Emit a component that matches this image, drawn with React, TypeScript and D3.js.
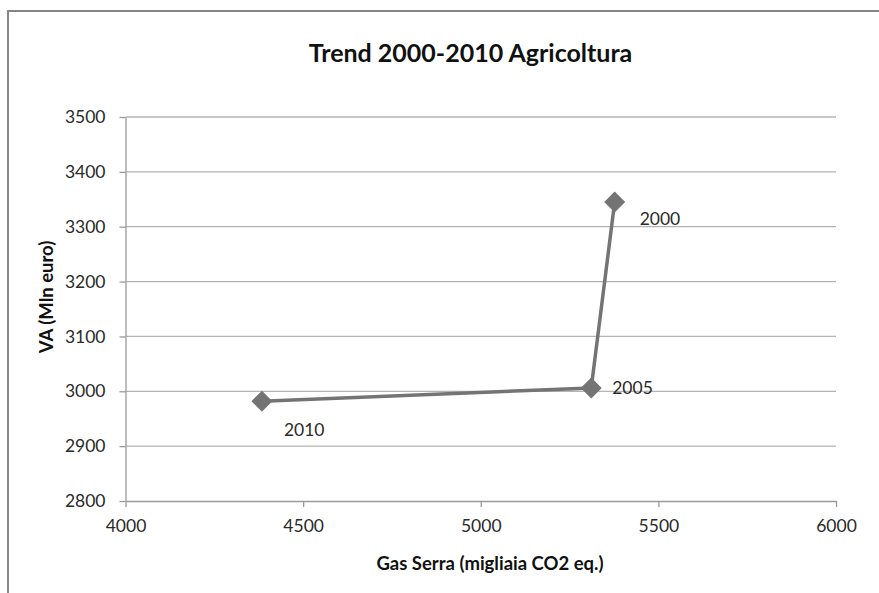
import React, { useEffect, useRef } from 'react';
import * as d3 from 'd3';

const years = ['2000', '2005', '2010'];
const gasSerra = [5377, 5311, 4384];
const va = [3345, 3006, 2982];
const xTicks = [4000, 4500, 5000, 5500, 6000];
const yTicks = [2800, 2900, 3000, 3100, 3200, 3300, 3400, 3500];

const App: React.FC = () => {
  const svgRef = useRef<SVGSVGElement>(null);

  useEffect(() => {
    if (!svgRef.current) return;
    const width = 879;
    const height = 593;
    const margin = { top: 117, right: 43, bottom: 92, left: 125.5 };
    const font = 'Lato, "Open Sans", sans-serif';

    const svg = d3.select(svgRef.current);
    svg.selectAll('*').remove();

    // frame
    svg.append('rect')
      .attr('x', 8).attr('y', 11)
      .attr('width', width + 20).attr('height', height + 20)
      .attr('fill', 'white')
      .attr('stroke', '#868686')
      .attr('stroke-width', 2);

    const x = d3.scaleLinear()
      .domain([4000, 6000])
      .range([margin.left, width - margin.right]);
    const y = d3.scaleLinear()
      .domain([2800, 3500])
      .range([height - margin.bottom, margin.top]);

    // grid
    svg.append('g')
      .selectAll('line')
      .data(yTicks.slice(1))
      .join('line')
      .attr('x1', x(4000)).attr('x2', x(6000))
      .attr('y1', d => y(d)).attr('y2', d => y(d))
      .attr('stroke', '#b3b3b3')
      .attr('stroke-width', 1.3);

    // axes
    const yAxis = svg.append('g')
      .attr('transform', `translate(${x(4000)},0)`)
      .call(d3.axisLeft(y).tickValues(yTicks).tickSize(6).tickSizeOuter(0).tickPadding(14).tickFormat(d3.format('d')));
    const xAxis = svg.append('g')
      .attr('transform', `translate(0,${y(2800)})`)
      .call(d3.axisBottom(x).tickValues(xTicks).tickSize(6).tickSizeOuter(0).tickPadding(13).tickFormat(d3.format('d')));

    [xAxis, yAxis].forEach(a => {
      a.select('.domain').attr('stroke', '#9a9a9a').attr('stroke-width', 1.3);
      a.selectAll('.tick line').attr('stroke', '#9a9a9a').attr('stroke-width', 1.3);
      a.selectAll('.tick text')
        .attr('font-family', font)
        .attr('font-size', 17.5)
        .attr('fill', '#2a2a2a');
    });

    // line
    const pts = years.map((yr, i) => ({ yr, gx: gasSerra[i], v: va[i] }));
    const line = d3.line<{ gx: number; v: number }>()
      .x(d => x(d.gx))
      .y(d => y(d.v));
    svg.append('path')
      .datum(pts)
      .attr('fill', 'none')
      .attr('stroke', '#747474')
      .attr('stroke-width', 3.5)
      .attr('d', line);

    const diamond = d3.symbol().type(d3.symbolSquare).size(220);
    svg.append('g')
      .selectAll('path')
      .data(pts)
      .join('path')
      .attr('d', diamond)
      .attr('transform', d => `translate(${x(d.gx)},${y(d.v)}) rotate(45)`)
      .attr('fill', '#747474');

    // data labels
    const offsets: Record<string, [number, number]> = {
      '2000': [25, 23],
      '2005': [21, 6],
      '2010': [22, 35],
    };
    svg.append('g')
      .selectAll('text')
      .data(pts)
      .join('text')
      .attr('x', d => x(d.gx) + offsets[d.yr][0])
      .attr('y', d => y(d.v) + offsets[d.yr][1])
      .attr('font-family', font)
      .attr('font-size', 17.5)
      .attr('fill', '#2a2a2a')
      .text(d => d.yr);

    // titles
    svg.append('text')
      .attr('x', 470.5).attr('y', 62)
      .attr('text-anchor', 'middle')
      .attr('font-family', font)
      .attr('font-weight', 'bold')
      .attr('font-size', 25)
      .attr('fill', '#111')
      .text('Trend 2000-2010 Agricoltura');

    svg.append('text')
      .attr('x', 490).attr('y', 570)
      .attr('text-anchor', 'middle')
      .attr('font-family', font)
      .attr('font-weight', 'bold')
      .attr('font-size', 18.5)
      .attr('fill', '#111')
      .text('Gas Serra (migliaia CO2 eq.)');

    svg.append('text')
      .attr('transform', 'translate(53,297) rotate(-90)')
      .attr('text-anchor', 'middle')
      .attr('font-family', font)
      .attr('font-weight', 'bold')
      .attr('font-size', 18.5)
      .attr('fill', '#111')
      .text('VA (Mln euro)');
  }, []);

  return (
    <svg
      ref={svgRef}
      width={879}
      height={593}
      viewBox="0 0 879 593"
      style={{ position: 'absolute', left: 0, top: 0, display: 'block', background: 'white' }}
    />
  );
};

export default App;
